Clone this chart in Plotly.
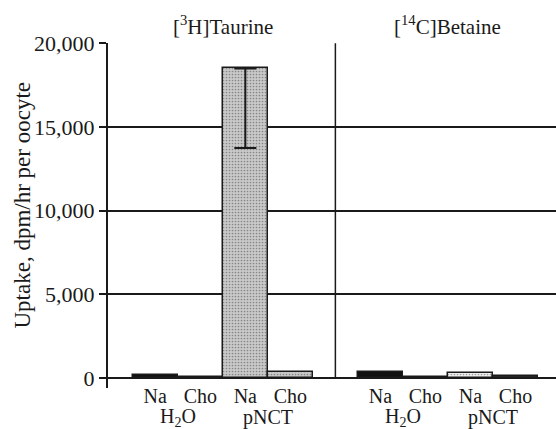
import plotly.graph_objects as go

# Data
panels = ["[<sup>3</sup>H]Taurine", "[<sup>14</sup>C]Betaine"]
groups = ["H<sub>2</sub>O", "pNCT"]
salts = ["Na", "Cho"]
taurine = [150, 80, 18500, 350]
betaine = [350, 60, 300, 100]
taurine_err_minus = [0, 0, 4750, 0]
betaine_err_minus = [0, 0, 0, 0]
y_ticks = [0, 5000, 10000, 15000, 20000]
y_ticktext = ["0", "5,000", "10,000", "15,000", "20,000"]

FONT = "Liberation Serif"
INK = "#1a1a1a"

# positions: bars are 1 unit wide, panels separated by one empty unit
n = len(taurine)
x_left = list(range(n))
x_right = [n + 1 + i for i in range(n)]
xs = x_left + x_right
ys = taurine + betaine
errs = taurine_err_minus + betaine_err_minus
labels = [salts[i % 2] for i in range(2 * n)]

fills = ["#111111", "#333333", "#c9c9c9", "#c9c9c9",
         "#111111", "#333333", "#f2f2f2", "#333333"]
shapes_pat = ["", "", ".", ".", "", "", ".", ""]

fig = go.Figure()
fig.add_trace(go.Bar(
    x=xs, y=ys, width=1.0,
    marker=dict(color=fills,
                line=dict(color=INK, width=1.5),
                pattern=dict(shape=shapes_pat, fgcolor="#8a8a8a",
                             size=3, solidity=0.25)),
    showlegend=False, hoverinfo="skip"))

ex = [x for x, e in zip(xs, errs) if e > 0]
ey = [y for y, e in zip(ys, errs) if e > 0]
em = [e for e in errs if e > 0]
fig.add_trace(go.Scatter(
    x=ex, y=ey, mode="markers", marker=dict(size=0.1, color=INK),
    error_y=dict(type="data", symmetric=False, array=[0] * len(em),
                 arrayminus=em, color=INK, thickness=2, width=11),
    showlegend=False, hoverinfo="skip"))

# divider between panels
div_x = n
fig.add_shape(type="line", x0=div_x, x1=div_x, y0=0, y1=y_ticks[-1],
              xref="x", yref="y", line=dict(color=INK, width=1.5), layer="above")

annotations = []
# panel titles
for p, xc in zip(panels, [(x_left[0] + x_left[-1]) / 2, (x_right[0] + x_right[-1]) / 2]):
    annotations.append(dict(x=xc, y=1, xref="x", yref="paper", text=p,
                            showarrow=False, yanchor="bottom", yshift=2,
                            font=dict(family=FONT, size=21, color=INK)))
# group labels
for i, g in enumerate(groups * 2):
    xc = (xs[2 * i] + xs[2 * i + 1]) / 2
    annotations.append(dict(x=xc, y=0, xref="x", yref="paper", text=g,
                            showarrow=False, yanchor="middle", yshift=-29,
                            font=dict(family=FONT, size=20, color=INK)))
# y title
annotations.append(dict(x=0, y=0.5, xref="paper", yref="paper",
                        text="Uptake, dpm/hr per oocyte", textangle=-90,
                        showarrow=False, xanchor="center", yanchor="middle",
                        xshift=-86, yshift=10,
                        font=dict(family=FONT, size=23, color=INK)))

fig.update_layout(
    width=556, height=429,
    margin=dict(l=108, r=0, t=43, b=41),
    paper_bgcolor="white", plot_bgcolor="white",
    bargap=0,
    annotations=annotations,
    font=dict(family=FONT, color=INK),
    xaxis=dict(range=[-1.05, 8.9], showgrid=False, zeroline=False,
               showline=False, ticks="", tickvals=xs, ticktext=labels,
               tickfont=dict(family=FONT, size=20, color=INK),
               ticklabelstandoff=-6),
    yaxis=dict(range=[-600, 20020], tickvals=y_ticks, ticktext=y_ticktext,
               showgrid=True, gridcolor=INK, gridwidth=1.5,
               zeroline=True, zerolinecolor=INK, zerolinewidth=2,
               showline=True, linecolor=INK, linewidth=2,
               ticks="outside", ticklen=7, tickwidth=1.5, tickcolor=INK,
               tickfont=dict(family=FONT, size=22, color=INK)),
)

fig.write_html("out.html")
